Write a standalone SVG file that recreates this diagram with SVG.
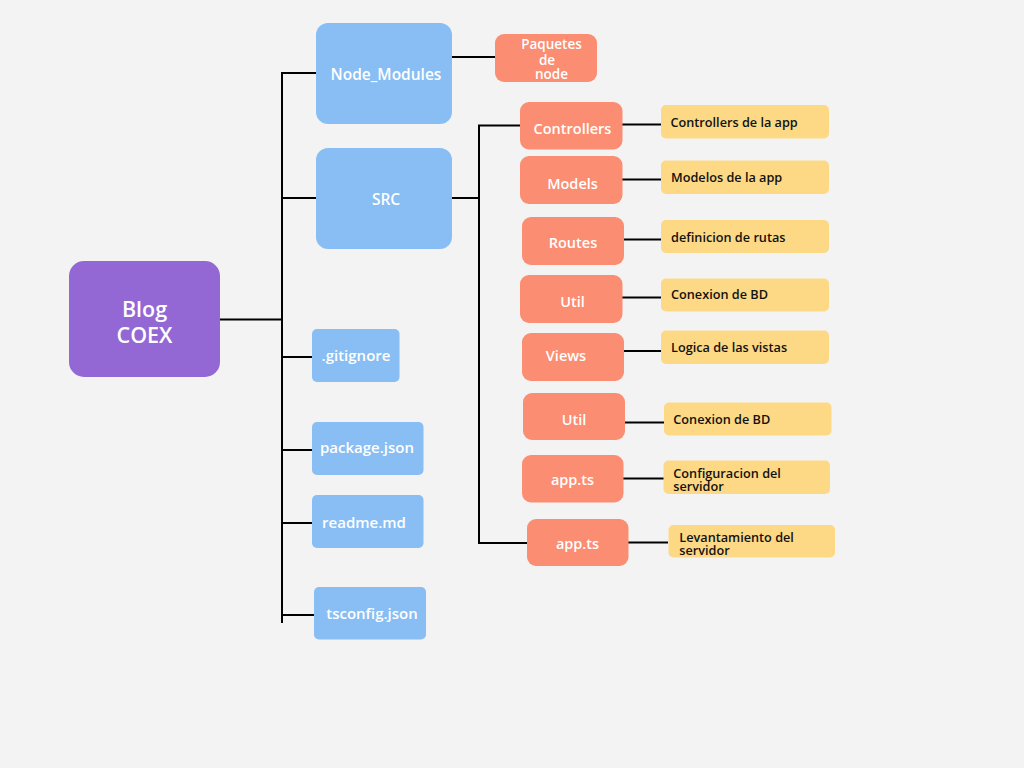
<svg xmlns="http://www.w3.org/2000/svg" width="1024" height="768" viewBox="0 0 1024 768">
<style>
.bg{fill:#f3f3f3}
.purple{fill:#9368d5}
.blue{fill:#88bef3}
.orange{fill:#fa8d72}
.yellow{fill:#fdd985}
.wt{font-family:"Open Sans","DejaVu Sans",sans-serif;fill:#ffffff;font-weight:600;text-anchor:middle}
.bt{font-family:"Open Sans","DejaVu Sans",sans-serif;fill:#111111;font-weight:600;font-size:12.7px}
.ln{stroke:#000000;stroke-width:2;fill:none}
</style>
<rect class="bg" x="0" y="0" width="1024" height="768"/>
<g id="connectors">
<path class="ln" d="M220 319.5H282M282 72V623M282 73H316M282 198H316M282 357H315M282 450H313M282 523H313M282 615H315"/>
<path class="ln" d="M452 57H495M452 198H479M479 124.5V544M479 125.5H520M479 543H527"/>
<path class="ln" d="M622 124.5H661M622 179.5H661M624 239.5H661M622 297.5H661M624 351H661M625 422.5H664M623 478.5H664M628 542.5H668"/>
</g>
<g id="blog-coex">
<rect class="purple" x="69" y="261" width="151" height="116" rx="15"/>
<text class="wt" x="144.5" y="317" font-size="21.5">Blog</text>
<text class="wt" x="144.5" y="342.5" font-size="21.5">COEX</text>
</g>
<g id="node-modules">
<rect class="blue" x="316" y="23" width="136" height="101" rx="12"/>
<text class="wt" x="386" y="80" font-size="15.5">Node_Modules</text>
</g>
<g id="paquetes">
<rect class="orange" x="495" y="34" width="102" height="48" rx="9"/>
<text class="wt" x="551.5" y="49.3" font-size="13.5">Paquetes</text>
<text class="wt" x="547" y="65" font-size="13.5">de</text>
<text class="wt" x="551.5" y="79.3" font-size="13.5">node</text>
</g>
<g id="src">
<rect class="blue" x="316" y="148" width="136" height="101" rx="12"/>
<text class="wt" x="386" y="204.5" font-size="15.5">SRC</text>
</g>
<g id="gitignore">
<rect class="blue" x="312" y="329" width="87.5" height="53" rx="5"/>
<text class="wt" x="356" y="360.5" font-size="15">.gitignore</text>
</g>
<g id="package-json">
<rect class="blue" x="312" y="422" width="111.5" height="53" rx="5"/>
<text class="wt" x="367" y="453" font-size="15">package.json</text>
</g>
<g id="readme-md">
<rect class="blue" x="312" y="495" width="111.5" height="53" rx="5"/>
<text class="wt" x="364" y="527.5" font-size="15">readme.md</text>
</g>
<g id="tsconfig-json">
<rect class="blue" x="314" y="587" width="112" height="52.5" rx="5"/>
<text class="wt" x="372" y="619" font-size="15">tsconfig.json</text>
</g>
<g id="controllers">
<rect class="orange" x="520" y="102" width="102.5" height="47.5" rx="9"/>
<text class="wt" x="572.5" y="134" font-size="14.5">Controllers</text>
</g>
<g id="models">
<rect class="orange" x="520" y="156" width="102.5" height="48" rx="9"/>
<text class="wt" x="572.5" y="189" font-size="14.5">Models</text>
</g>
<g id="routes">
<rect class="orange" x="522" y="217" width="102" height="48" rx="9"/>
<text class="wt" x="573" y="248" font-size="14.5">Routes</text>
</g>
<g id="util">
<rect class="orange" x="520" y="275" width="102.5" height="48" rx="9"/>
<text class="wt" x="572.5" y="306.5" font-size="14.5">Util</text>
</g>
<g id="views">
<rect class="orange" x="522" y="333" width="102" height="48" rx="9"/>
<text class="wt" x="566" y="360.5" font-size="14.5">Views</text>
</g>
<g id="util-2">
<rect class="orange" x="523" y="393" width="102" height="47" rx="9"/>
<text class="wt" x="574" y="425" font-size="14.5">Util</text>
</g>
<g id="app-ts-1">
<rect class="orange" x="522" y="455" width="101.5" height="47.5" rx="9"/>
<text class="wt" x="572.5" y="485" font-size="14.5">app.ts</text>
</g>
<g id="app-ts-2">
<rect class="orange" x="527" y="519" width="101.5" height="47" rx="9"/>
<text class="wt" x="577.5" y="549" font-size="14.5">app.ts</text>
</g>
<g id="desc-controllers">
<rect class="yellow" x="661" y="105" width="168" height="33.5" rx="5"/>
<text class="bt" x="670.5" y="126.5">Controllers de la app</text>
</g>
<g id="desc-models">
<rect class="yellow" x="661" y="160.5" width="168" height="33.5" rx="5"/>
<text class="bt" x="671" y="182.3">Modelos de la app</text>
</g>
<g id="desc-routes">
<rect class="yellow" x="661" y="220" width="168" height="33" rx="5"/>
<text class="bt" x="671" y="241.5">definicion de rutas</text>
</g>
<g id="desc-util">
<rect class="yellow" x="661" y="278.5" width="168" height="33" rx="5"/>
<text class="bt" x="671" y="299">Conexion de BD</text>
</g>
<g id="desc-views">
<rect class="yellow" x="661" y="330.5" width="168" height="33.5" rx="5"/>
<text class="bt" x="671" y="352">Logica de las vistas</text>
</g>
<g id="desc-util-2">
<rect class="yellow" x="664" y="402.5" width="167.5" height="33" rx="5"/>
<text class="bt" x="673.3" y="424.3">Conexion de BD</text>
</g>
<g id="desc-config">
<rect class="yellow" x="663.5" y="460.5" width="166.5" height="33.5" rx="5"/>
<text class="bt" x="673.3" y="477.7">Configuracion del</text>
<text class="bt" x="673.3" y="490.7">servidor</text>
</g>
<g id="desc-levantamiento">
<rect class="yellow" x="668.5" y="525" width="166.5" height="32.5" rx="5"/>
<text class="bt" x="679.3" y="541.7">Levantamiento del</text>
<text class="bt" x="679.3" y="555">servidor</text>
</g>
</svg>
